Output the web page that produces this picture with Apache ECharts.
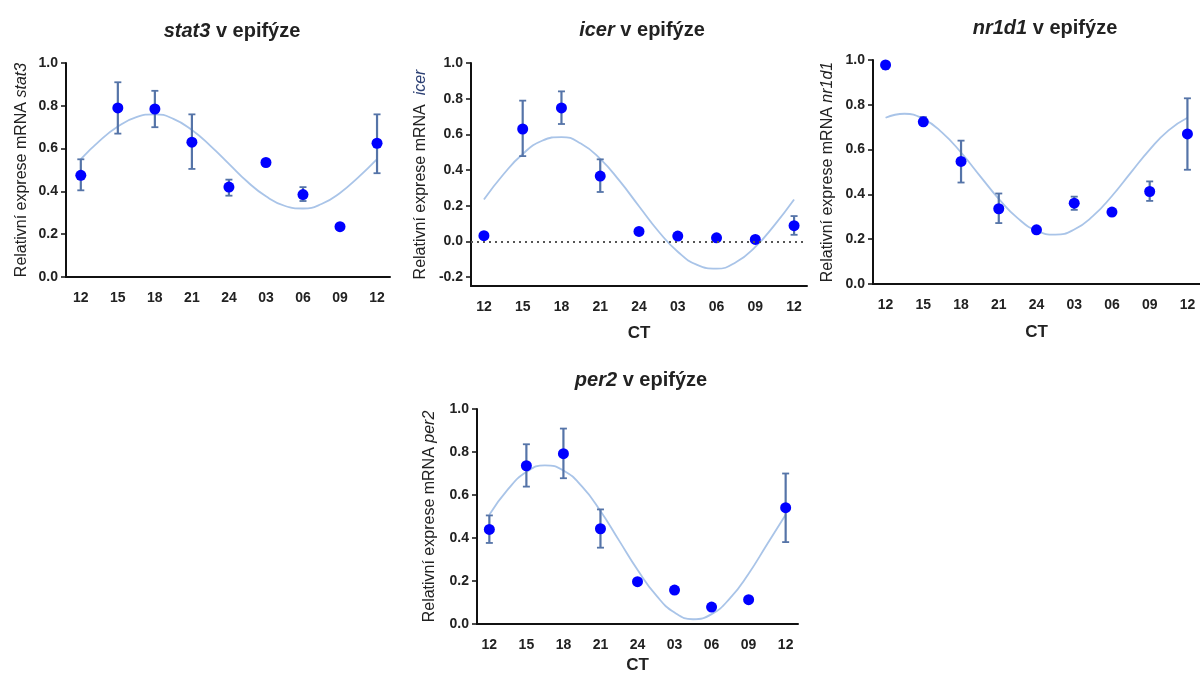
<!DOCTYPE html>
<html>
<head>
<meta charset="utf-8">
<script src="https://cdn.jsdelivr.net/npm/echarts@6/dist/echarts.min.js"></script>
<style>
  html, body { margin: 0; padding: 0; background: #fff; }
  #main { width: 1200px; height: 675px; }
</style>
</head>
<body>
<div id="main"></div>
<script>
// CT time points and their labels
var ctTicks = [12, 15, 18, 21, 24, 27, 30, 33, 36];
var ctLabels = ['12', '15', '18', '21', '24', '03', '06', '09', '12'];
// x positions of the fitted curve samples
var curveX = [12, 13.5, 15, 16.5, 18, 19.5, 21, 22.5, 24, 25.5, 27, 28.5, 30, 31.5, 33, 34.5, 36];

// stat3
var stat3Mean = [0.475, 0.79, 0.785, 0.63, 0.42, 0.535, 0.385, 0.235, 0.625];
var stat3Low = [0.405, 0.67, 0.70, 0.505, 0.38, null, 0.355, null, 0.485];
var stat3High = [0.55, 0.91, 0.87, 0.76, 0.455, null, 0.42, null, 0.76];
var stat3Curve = [0.551, 0.635, 0.703, 0.747, 0.760, 0.739, 0.687, 0.613, 0.529, 0.445, 0.377, 0.333, 0.320, 0.341, 0.393, 0.467, 0.551];

// icer
var icerMean = [0.032, 0.63, 0.748, 0.366, 0.056, 0.03, 0.02, 0.011, 0.088];
var icerLow = [null, 0.478, 0.658, 0.277, null, null, null, null, 0.037];
var icerHigh = [null, 0.789, 0.841, 0.46, null, null, null, null, 0.142];
var icerCurve = [0.235, 0.375, 0.490, 0.564, 0.585, 0.549, 0.463, 0.339, 0.197, 0.057, -0.058, -0.132, -0.153, -0.117, -0.031, 0.093, 0.235];

// nr1d1
var nr1d1Mean = [0.978, 0.724, 0.547, 0.336, 0.242, 0.361, 0.321, 0.413, 0.67];
var nr1d1Low = [0.96, 0.71, 0.453, 0.272, null, 0.331, null, 0.371, 0.51];
var nr1d1High = [0.99, 0.745, 0.64, 0.404, null, 0.39, null, 0.458, 0.829];
var nr1d1Curve = [0.742, 0.760, 0.737, 0.676, 0.587, 0.483, 0.380, 0.294, 0.238, 0.220, 0.243, 0.304, 0.393, 0.497, 0.600, 0.686, 0.742];

// per2
var per2Mean = [0.44, 0.736, 0.792, 0.443, 0.197, 0.158, 0.079, 0.113, 0.541];
var per2Low = [0.377, 0.639, 0.678, 0.355, null, null, null, null, 0.381];
var per2High = [0.505, 0.836, 0.909, 0.533, null, null, null, null, 0.70];
var per2Curve = [0.508, 0.626, 0.707, 0.738, 0.714, 0.640, 0.526, 0.389, 0.252, 0.134, 0.053, 0.022, 0.046, 0.120, 0.234, 0.371, 0.508];

var yTicks = [0, 0.2, 0.4, 0.6, 0.8, 1.0];
var yTicksIcer = [-0.2, 0, 0.2, 0.4, 0.6, 0.8, 1.0];

var font = "'Liberation Sans', Arial, sans-serif";
var txt = '#222';
var dotColor = '#0000ff';
var errColor = '#5574a8';
var curveColor = '#a9c4e8';

var panels = [
	{gene: 'stat3', mean: stat3Mean, low: stat3Low, high: stat3High, curve: stat3Curve,
		grid: {left: 66, top: 63, width: 324, height: 214}, xmin: 10.8, xmax: 37.05, title: [227, 16],
		ymin: 0, ticks: yTicks, nameGap: 36, ct: false},
	{gene: 'icer', mean: icerMean, low: icerLow, high: icerHigh, curve: icerCurve,
		grid: {left: 471, top: 63, width: 336, height: 223}, xmin: 11, xmax: 37, title: [637, 15],
		ymin: -0.25, ticks: yTicksIcer, nameGap: 42, ct: true, ctGap: 39, zero: true},
	{gene: 'nr1d1', mean: nr1d1Mean, low: nr1d1Low, high: nr1d1High, curve: nr1d1Curve,
		grid: {left: 873, top: 60, width: 334, height: 224}, xmin: 11, xmax: 37, title: [1040, 13],
		ymin: 0, ticks: yTicks, nameGap: 37, ct: true, ctGap: 40},
	{gene: 'per2', mean: per2Mean, low: per2Low, high: per2High, curve: per2Curve,
		grid: {left: 477, top: 409, width: 321, height: 215}, xmin: 11, xmax: 37, title: [636, 365],
		ymin: 0, ticks: yTicks, nameGap: 39, ct: true, ctGap: 33}
];

function errItem(params, api) {
	var x = api.value(0);
	var p1 = api.coord([x, api.value(2)]);
	var p2 = api.coord([x, api.value(1)]);
	var w = 3.5;
	return {
		type: 'group',
		children: [
			{type: 'line', shape: {x1: p1[0], y1: p1[1], x2: p2[0], y2: p2[1]}, style: {stroke: errColor, lineWidth: 2.2}},
			{type: 'line', shape: {x1: p1[0] - w, y1: p1[1], x2: p1[0] + w, y2: p1[1]}, style: {stroke: errColor, lineWidth: 1.8}},
			{type: 'line', shape: {x1: p2[0] - w, y1: p2[1], x2: p2[0] + w, y2: p2[1]}, style: {stroke: errColor, lineWidth: 1.8}}
		]
	};
}

var option = {
	backgroundColor: '#fff',
	animation: false,
	textStyle: {fontFamily: font},
	title: [], grid: [], xAxis: [], yAxis: [], series: []
};

panels.forEach(function(p, i) {
	option.title.push({
		text: '{i|' + p.gene + '}{n| v epifýze}',
		left: p.title[0], top: p.title[1], textAlign: 'center',
		textStyle: {
			rich: {
				i: {fontFamily: font, fontSize: 20, fontWeight: 'bold', fontStyle: 'italic', color: txt},
				n: {fontFamily: font, fontSize: 20, fontWeight: 'bold', color: txt}
			}
		}
	});
	option.grid.push(p.grid);
	option.xAxis.push({
		gridIndex: i, type: 'value', min: p.xmin, max: p.xmax,
		name: p.ct ? 'CT' : '', nameLocation: 'middle', nameGap: p.ctGap || 30,
		nameTextStyle: {fontFamily: font, fontSize: 17, fontWeight: 'bold', color: txt},
		axisLine: {onZero: false, lineStyle: {color: '#111', width: 2}},
		axisTick: {show: false},
		splitLine: {show: false},
		axisLabel: {
			customValues: ctTicks, margin: 14,
			fontFamily: font, fontSize: 14, fontWeight: 'bold', color: txt,
			formatter: function(v) {
				var k = ctTicks.indexOf(v);
				return k >= 0 ? ctLabels[k] : '';
			}
		}
	});
	var nameColor = p.gene === 'icer' ? '#2b3f73' : txt;
	option.yAxis.push({
		gridIndex: i, type: 'value', min: p.ymin, max: 1,
		name: '{n|Relativní exprese mRNA' + (p.gene === 'icer' ? '  ' : ' ') + '}{i|' + p.gene + '}',
		nameLocation: 'middle', nameGap: p.nameGap,
		nameTextStyle: {
			rich: {
				n: {fontFamily: font, fontSize: 16, color: txt},
				i: {fontFamily: font, fontSize: 16, fontStyle: 'italic', color: nameColor}
			}
		},
		axisLine: {show: true, onZero: false, lineStyle: {color: '#111', width: 2}},
		axisTick: {show: true, customValues: p.ticks, length: 5, lineStyle: {color: '#111', width: 1.5}},
		splitLine: {show: false},
		axisLabel: {
			customValues: p.ticks, margin: 8,
			fontFamily: font, fontSize: 14, fontWeight: 'bold', color: txt,
			formatter: function(v) { return v.toFixed(1); }
		}
	});

	var curveData = curveX.map(function(x, k) { return [x, p.curve[k]]; });
	var curveSeries = {
		type: 'line', xAxisIndex: i, yAxisIndex: i, smooth: true, showSymbol: false,
		lineStyle: {color: curveColor, width: 1.8}, data: curveData, z: 2
	};
	if (p.zero) {
		curveSeries.markLine = {
			silent: true, symbol: 'none', label: {show: false},
			lineStyle: {color: '#555', type: [2, 4], width: 2},
			data: [{yAxis: 0}]
		};
	}
	option.series.push(curveSeries);

	var errData = [];
	ctTicks.forEach(function(x, k) {
		if (p.low[k] !== null) errData.push([x, p.low[k], p.high[k]]);
	});
	option.series.push({
		type: 'custom', xAxisIndex: i, yAxisIndex: i, renderItem: errItem,
		encode: {x: 0, y: [1, 2]}, data: errData, z: 3
	});
	option.series.push({
		type: 'scatter', xAxisIndex: i, yAxisIndex: i, symbolSize: 11,
		itemStyle: {color: dotColor, opacity: 1},
		data: ctTicks.map(function(x, k) { return [x, p.mean[k]]; }), z: 4
	});
});

var ec = echarts.init(document.getElementById('main'));
ec.setOption(option);
</script>
</body>
</html>
